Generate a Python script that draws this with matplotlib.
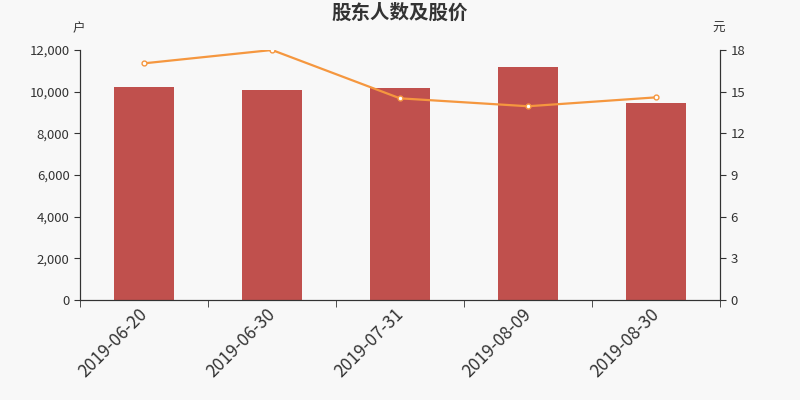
import matplotlib
matplotlib.use("Agg")
import matplotlib.pyplot as plt
import matplotlib.transforms as mtransforms
import numpy as np

plt.rcParams['font.family'] = ['Noto Sans CJK SC', 'DejaVu Sans']

dates = ["2019-06-20", "2019-06-30", "2019-07-31", "2019-08-09", "2019-08-30"]
holders = [10210, 10080, 10170, 11180, 9440]
prices = [17.04, 18.0, 14.52, 13.95, 14.59]
left_ticks = [0, 2000, 4000, 6000, 8000, 10000, 12000]
right_ticks = [0, 3, 6, 9, 12, 15, 18]

bg = "#f8f8f8"
fig = plt.figure(figsize=(8, 4), dpi=100, facecolor=bg)
ax = fig.add_axes([0.1, 0.25, 0.8, 0.625])
ax.set_facecolor(bg)
x = np.arange(len(dates))
ax.bar(x, holders, width=0.47, color="#c0504d", zorder=2)
ax.set_xlim(-0.5, len(dates) - 0.5)
ax.set_ylim(0, 12000)
ax.set_yticks(left_ticks)
ax.set_yticklabels([f"{v:,}" for v in left_ticks])
ax.set_xticks(x)
ax.set_xticklabels(dates, rotation=45, ha="right", rotation_mode="anchor", fontsize=12.5, color="#333333")
ax.tick_params(axis="x", which="major", length=0, pad=4)
offset = mtransforms.ScaledTranslation(-6 / 100, 0, fig.dpi_scale_trans)
for lbl in ax.get_xticklabels():
    lbl.set_transform(lbl.get_transform() + offset)
ax.set_xticks(np.arange(-0.5, len(dates)), minor=True)
ax.tick_params(axis="x", which="minor", length=5, color="#333333")
ax.tick_params(axis="y", labelsize=9.5, colors="#333333", length=4)
for s in ["top"]:
    ax.spines[s].set_visible(False)
for s in ["left", "right", "bottom"]:
    ax.spines[s].set_color("#333333")

ax2 = ax.twinx()
ax2.plot(x, prices, color="#f5973f", lw=1.6, marker="o", markersize=3.5,
         markerfacecolor="white", markeredgecolor="#f5973f", markeredgewidth=1, zorder=3)
ax2.set_ylim(0, 18)
ax2.set_yticks(right_ticks)
ax2.tick_params(axis="y", labelsize=9.5, colors="#333333", length=4)
ax2.spines["top"].set_visible(False)
for s in ["left", "right", "bottom"]:
    ax2.spines[s].set_color("#333333")

fig.text(0.5, 0.967, "股东人数及股价", ha="center", va="center", fontsize=14,
         fontweight="bold", color="#333333")
fig.text(0.098, 0.928, "户", ha="center", va="center", fontsize=9, color="#333333")
fig.text(0.898, 0.928, "元", ha="center", va="center", fontsize=9, color="#333333")

fig.savefig("out.png", dpi=100, facecolor=bg)
